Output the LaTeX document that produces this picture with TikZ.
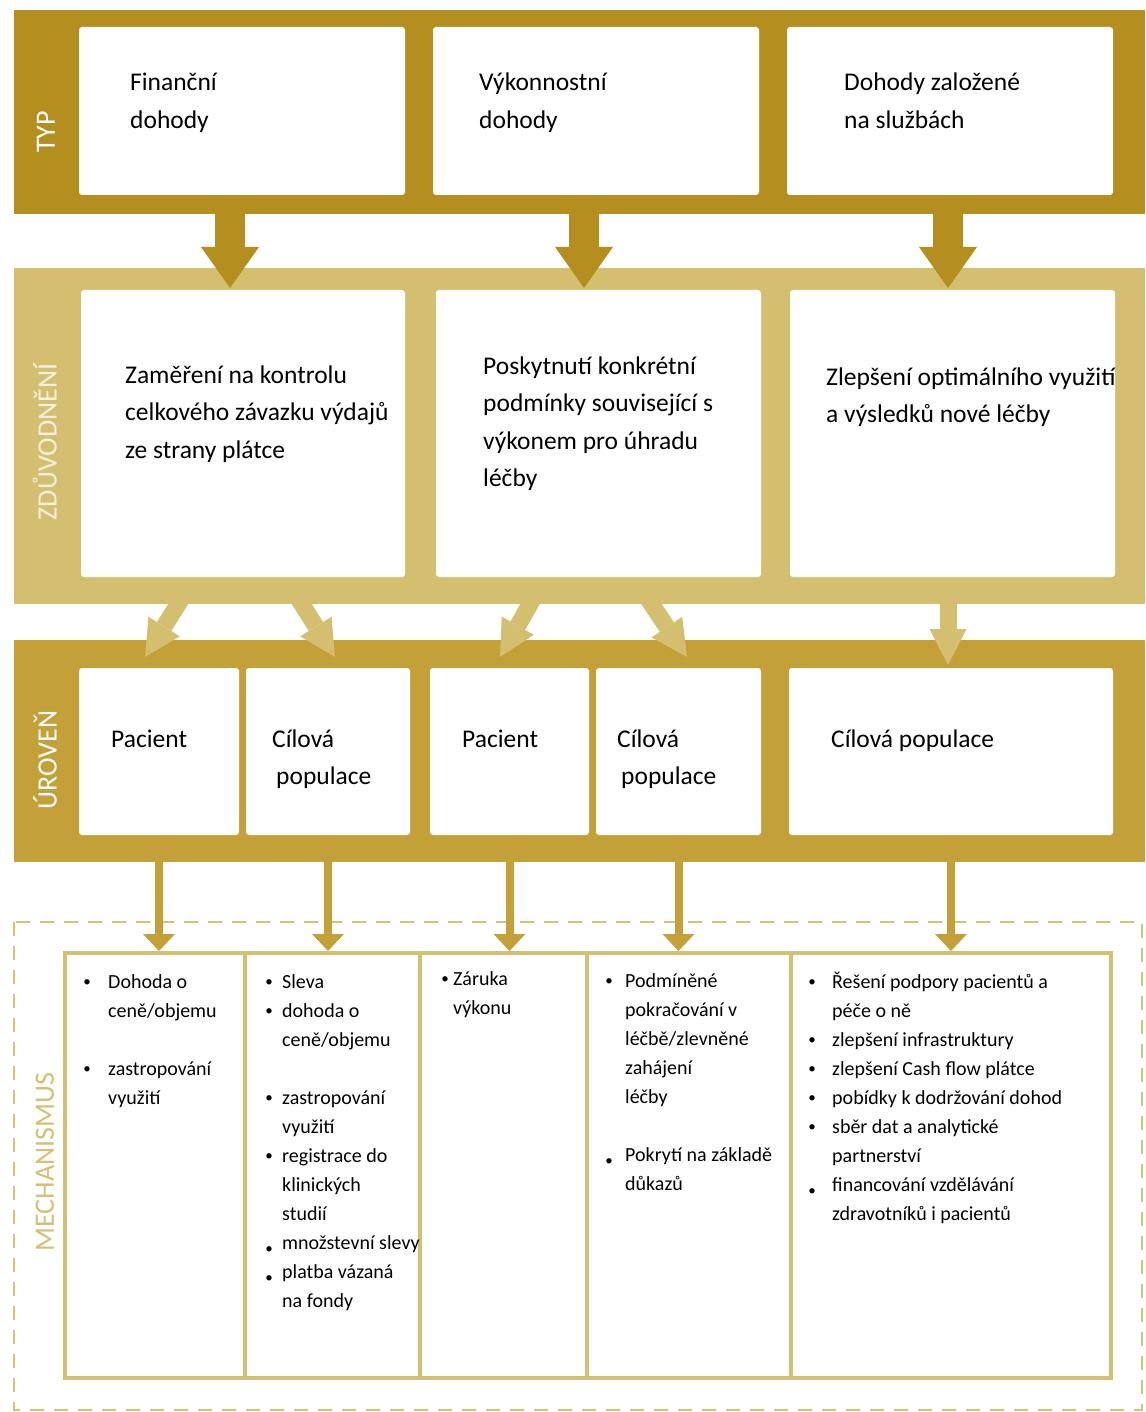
\documentclass[tikz,border=0pt]{standalone}
\usepackage{fontspec}
\setmainfont{Carlito}
\usetikzlibrary{arrows.meta}

\definecolor{goldA}{RGB}{180,143,31}
\definecolor{goldB}{RGB}{212,191,113}
\definecolor{goldC}{RGB}{196,160,56}
\definecolor{goldL}{RGB}{212,192,116}
\definecolor{goldD}{RGB}{214,193,118}
\definecolor{cream}{RGB}{246,240,222}

\newcommand\bigtxt{\fontsize{25.5}{37.5}\selectfont}
\newcommand\smtxt{\fontsize{20}{29}\selectfont}
\newcommand\lbltxt{\fontsize{28}{30}\selectfont}
% multi-line text whose baseline is the first line
\newcommand\lines[1]{\begin{tabular}[t]{@{}l@{}}#1\end{tabular}}
% bullet list: bullet column of zero width, then the gap, then the text
\newcommand\mech[2]{\begin{tabular}[t]{@{}l@{\hspace{#1}}l@{}}#2\end{tabular}}
\newcommand\bl{\makebox[0pt]{\raisebox{1.5pt}{\fontsize{15}{15}\selectfont •}}}
\newcommand\blo{\makebox[0pt]{\raisebox{-4pt}{\fontsize{15}{15}\selectfont •}}}

\begin{document}
\begin{tikzpicture}[x=1pt,y=-1pt,
  band/.style={anchor=north west, inner sep=0pt, outer sep=0pt},
  card/.style={anchor=north west, fill=white, rounded corners=3pt, inner sep=0pt, outer sep=0pt},
  mcell/.style={anchor=north west, draw=goldL, line width=4pt, inner sep=0pt, outer sep=0pt, minimum height=425pt},
  txt/.style={anchor=base west, inner sep=0pt, font=\bigtxt, text=black},
  mtxt/.style={anchor=base west, inner sep=0pt, font=\smtxt, text=black},
  lbl/.style={rotate=90, inner sep=0pt, font=\lbltxt},
  darkarrow/.style={draw=goldA, line width=30pt, -{Triangle[width=58pt,length=41pt,line width=0pt]}},
  lightarrow/.style={draw=goldB, line width=17pt, -{Triangle[width=37pt,length=36pt,line width=0pt]}},
  thinarrow/.style={draw=goldC, line width=8pt, -{Triangle[width=32pt,length=17pt,line width=0pt]}},
]
\useasboundingbox (0,0) rectangle (1145,1412);
\fill[white] (0,0) rectangle (1145,1412);

% ---------- coloured bands ----------
\node[band, fill=goldA, minimum width=1131pt, minimum height=204pt] (typ) at (14,10) {};
\node[band, fill=goldB, minimum width=1131pt, minimum height=336pt] (zd) at (14,268) {};
\node[band, fill=goldC, minimum width=1131pt, minimum height=222pt] (ur) at (14,640) {};

% ---------- dashed frame of the mechanism row ----------
\draw[goldD, line width=2.8pt, dash pattern=on 14pt off 10pt] (14,922) rectangle (1142,1410);

% ---------- white cards ----------
\node[card, minimum width=326pt, minimum height=168pt] (t1) at (79,27) {};
\node[card, minimum width=326pt, minimum height=168pt] (t2) at (433,27) {};
\node[card, minimum width=326pt, minimum height=168pt] (t3) at (787,27) {};

\node[card, minimum width=324pt, minimum height=287pt] (z1) at (81,290) {};
\node[card, minimum width=325pt, minimum height=287pt] (z2) at (436,290) {};
\node[card, minimum width=325pt, minimum height=287pt] (z3) at (790,290) {};

\node[card, minimum width=160pt, minimum height=167pt] (u1) at (79,668) {};
\node[card, minimum width=164pt, minimum height=167pt] (u2) at (246,668) {};
\node[card, minimum width=159pt, minimum height=167pt] (u3) at (430,668) {};
\node[card, minimum width=165pt, minimum height=167pt] (u4) at (596,668) {};
\node[card, minimum width=324pt, minimum height=167pt] (u5) at (789,668) {};

% ---------- mechanism cells ----------
\node[mcell, minimum width=180pt] (m1) at (65,953) {};
\node[mcell, minimum width=175pt] (m2) at (245,953) {};
\node[mcell, minimum width=167pt] (m3) at (420,953) {};
\node[mcell, minimum width=204pt] (m4) at (587,953) {};
\node[mcell, minimum width=320pt] (m5) at (791,953) {};

% ---------- arrows: type -> rationale ----------
\coordinate (d1) at (230,288);
\coordinate (d2) at (584,288);
\coordinate (d3) at (948,288);
\draw[darkarrow] (typ.south -| d1) -- (d1);
\draw[darkarrow] (typ.south -| d2) -- (d2);
\draw[darkarrow] (typ.south -| d3) -- (d3);

% ---------- arrows: rationale -> level ----------
\coordinate (l1s) at (187,590);  \coordinate (l1e) at (145,657);
\coordinate (l2s) at (293,590);  \coordinate (l2e) at (335,657);
\coordinate (l3s) at (538,590);  \coordinate (l3e) at (500,657);
\coordinate (l4s) at (642,590);  \coordinate (l4e) at (687,657);
\coordinate (l5s) at (948,590);  \coordinate (l5e) at (948,665);
\draw[lightarrow] (l1s) -- (l1e);
\draw[lightarrow] (l2s) -- (l2e);
\draw[lightarrow] (l3s) -- (l3e);
\draw[lightarrow] (l4s) -- (l4e);
\draw[lightarrow] (l5s) -- (l5e);

% ---------- arrows: level -> mechanism ----------
\draw[thinarrow] (ur.south -| u1.south) -- ([yshift=2pt]u1.south |- m1.north);
\draw[thinarrow] (ur.south -| u2.south) -- ([yshift=2pt]u2.south |- m2.north);
\draw[thinarrow] (ur.south -| u3.south) -- ([yshift=2pt]u3.south |- m3.north);
\draw[thinarrow] (ur.south -| u4.south) -- ([yshift=2pt]u4.south |- m4.north);
\draw[thinarrow] (ur.south -| u5.south) -- ([yshift=2pt]u5.south |- m5.north);

% ---------- row labels ----------
\node[lbl, text=white] (lt) at (46,132) {TYP};
\node[lbl, text=cream] (lz) at (45,442) {ZDŮVODNĚNÍ};
\node[lbl, text=white] (lu) at (45,760) {ÚROVEŇ};
\node[lbl, text=goldL] (lm) at (45,1162) {MECHANISMUS};

% ---------- card texts ----------
\node[txt] (t1t) at (130,91) {\lines{Finanční\\dohody}};
\node[txt] (t2t) at (479,91) {\lines{Výkonnostní\\dohody}};
\node[txt] (t3t) at (844,91) {\lines{Dohody založené\\na službách}};

\node[txt] (z1t) at (125,383) {\lines{Zaměření na kontrolu\\celkového závazku výdajů\\ze strany plátce}};
\node[txt] (z2t) at (483,374) {\lines{Poskytnutí konkrétní\\podmínky související s\\výkonem pro úhradu\\léčby}};
\node[txt] (z3t) at (826,385) {\lines{Zlepšení optimálního využití\\a výsledků nové léčby}};

\node[txt] (u1t) at (111,747) {Pacient};
\node[txt] (u2t) at (272,747) {\lines{Cílová\\\hspace*{4pt}populace}};
\node[txt] (u3t) at (462,747) {Pacient};
\node[txt] (u4t) at (617,747) {\lines{Cílová\\\hspace*{4pt}populace}};
\node[txt] (u5t) at (831,747) {Cílová populace};

% ---------- mechanism lists ----------
\node[mtxt] (m1t) at (87,988) {\mech{21pt}{\bl & Dohoda o\\ & ceně/objemu\\ & \\ \bl & zastropování\\ & využití}};
\node[mtxt] (m2t) at (269,988) {\mech{13pt}{\bl & Sleva\\ \bl & dohoda o\\ & ceně/objemu\\ & \\ \bl & zastropování\\ & využití\\ \bl & registrace do\\ & klinických\\ & studií\\ \blo & množstevní slevy\\ \blo & platba vázaná\\ & na fondy}};
\node[mtxt] (m3t) at (445,985) {\mech{8pt}{\bl & Záruka\\ & výkonu}};
\node[mtxt] (m4t) at (609,987) {\mech{16pt}{\bl & Podmíněné\\ & pokračování v\\ & léčbě/zlevněné\\ & zahájení\\ & léčby\\ & \\ \blo & Pokrytí na základě\\ & důkazů}};
\node[mtxt] (m5t) at (812,988) {\mech{20pt}{\bl & Řešení podpory pacientů a\\ & péče o ně\\ \bl & zlepšení infrastruktury\\ \bl & zlepšení Cash flow plátce\\ \bl & pobídky k dodržování dohod\\ \bl & sběr dat a analytické\\ & partnerství\\ \blo & financování vzdělávání\\ & zdravotníků i pacientů}};
\end{tikzpicture}
\end{document}
